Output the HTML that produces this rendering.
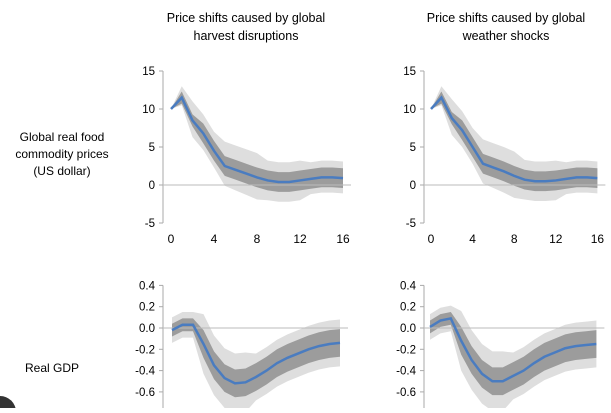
<!DOCTYPE html><html><head><style>body{margin:0;background:#fff;width:611px;height:408px;overflow:hidden}</style></head><body>
<svg id="s" width="611" height="408" font-family="Liberation Sans, sans-serif" fill="#000"></svg>
<script>
const s=document.getElementById('s');let h='';
const T=(x,y,t,sz,a)=>h+=`<text x="${x}" y="${y}" font-size="${sz}" text-anchor="${a||'middle'}">${t}</text>`;
T(246,22,'Price shifts caused by global',12.5);T(246,40,'harvest disruptions',12.5);
T(506,22,'Price shifts caused by global',12.5);T(506,40,'weather shocks',12.5);
T(62,141,'Global real food',12);T(62,158,'commodity prices',12);T(62,175,'(US dollar)',12);
T(52,372,'Real GDP',12);
h+=`<circle cx="0" cy="412" r="16" fill="#333"/>`;
function panel(ax,x0,dx,yz,sc,ticks,fmt,data,inn,out,xl){
 const X=i=>x0+i*dx,Y=v=>yz-v*sc;
 h+=`<line x1="${ax}" y1="${Y(ticks[0])}" x2="${ax}" y2="${Math.min(408,Y(ticks[ticks.length-1]))}" stroke="#aaa"/>`;
 ticks.forEach(t=>{h+=`<line x1="${ax-4}" y1="${Y(t)}" x2="${ax}" y2="${Y(t)}" stroke="#aaa"/>`;T(ax-8,Y(t)+4,fmt(t),11.5,'end');});
 const band=(lo,hi,c)=>{let p=data.map((v,i)=>X(i)+','+Y(v+hi[i])).join(' ')+' '+data.map((v,i)=>X(i)+','+Y(v-lo[i])).reverse().join(' ');h+=`<polygon points="${p}" fill="${c}"/>`;};
 band(out[0],out[1],'#dedede');band(inn[0],inn[1],'#9c9c9c');
 h+=`<line x1="${ax}" y1="${yz}" x2="${X(16)+8}" y2="${yz}" stroke="#bbb"/>`;
 h+=`<polyline points="${data.map((v,i)=>X(i)+','+Y(v)).join(' ')}" fill="none" stroke="#4a7cc0" stroke-width="2.5"/>`;
 if(xl)[0,4,8,12,16].forEach(i=>T(X(i),243,i,12));
}
const f0=t=>t, f1=t=>t.toFixed(1);
const tl=[10,11.5,8.5,6.8,4.5,2.5,2,1.5,1,0.6,0.4,0.4,0.6,0.8,1,1,0.9];
const tr=[10,11.5,8.8,7.2,5,2.8,2.3,1.8,1.2,0.7,0.5,0.5,0.6,0.8,1,1,0.9];
const iL=tl.map((v,i)=>i==0?0:i<3?0.8:1.3), iH=iL;
const oL=tl.map((v,i)=>i==0?0:i<2?1:i<5?2.2:i<9?2.6+ (i-5)*0.1:i<13?2.6:2);
const oH=tl.map((v,i)=>i==0?0:i<2?1.5:i<5?2.5:i<9?3.2:i<13?2.6:2.2);
panel(163,171,10.75,185,7.6,[15,10,5,0,-5],f0,tl,[iL,iH],[oL,oH],1);
panel(424,431,10.4,185,7.6,[15,10,5,0,-5],f0,tr,[iL,iH],[oL,oH],1);
const bl=[-0.02,0.03,0.03,-0.15,-0.35,-0.47,-0.52,-0.51,-0.46,-0.4,-0.33,-0.28,-0.24,-0.2,-0.17,-0.15,-0.14];
const br=[0.01,0.07,0.09,-0.12,-0.3,-0.43,-0.5,-0.5,-0.45,-0.4,-0.33,-0.27,-0.23,-0.19,-0.17,-0.16,-0.15];
const bi=bl.map((v,i)=>i<3?0.06:0.13), bo=bl.map((v,i)=>i<3?0.12:i<8?0.28:0.22);
panel(163,172,10.5,328,106.5,[0.4,0.2,0,-0.2,-0.4,-0.6,-0.8],f1,bl,[bi,bi],[bo,bo],0);
panel(424,430,10.4,328,106.5,[0.4,0.2,0,-0.2,-0.4,-0.6,-0.8],f1,br,[bi,bi],[bo,bo],0);
s.innerHTML=h;
</script></body></html>
